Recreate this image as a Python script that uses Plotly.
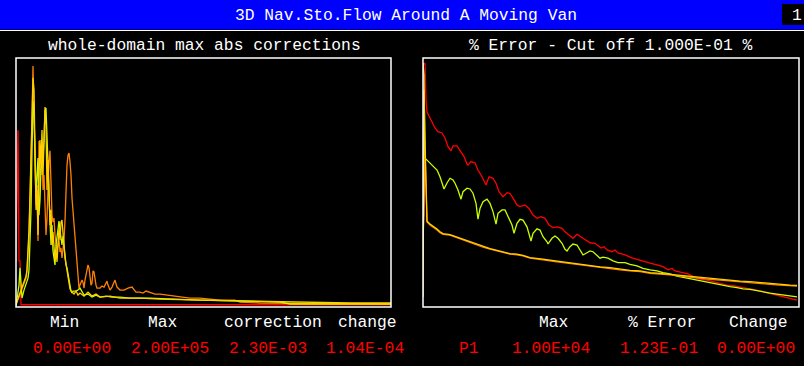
import plotly.graph_objects as go

# ---------------- data (iteration number, % of plot scale) ----------------
# Left panel: whole-domain max abs corrections
L_red_x = [0, 1, 2, 3, 4, 5, 375]
L_red_y = [18.5, 53.0, 71.0, 18.5, 18.5, 0.9, 0.9]

L_orange_x = [0, 2, 4, 6, 8, 10, 11, 12, 13, 14, 15, 16, 17, 18, 19, 20, 21, 22, 23, 24, 25, 26, 27, 28, 29,
              30, 31, 32, 33, 34, 35, 36, 37, 38, 39, 40, 41, 42, 43, 44, 45, 46, 47, 48, 49, 50, 51, 52, 53,
              54, 55, 56, 57, 58, 59, 60, 61, 62, 63, 64, 65, 66, 67, 68, 69, 70, 71, 72, 73, 74, 75, 76, 77,
              78, 79, 80, 81, 84, 86, 88, 90, 91, 92, 94, 96, 98, 99, 101, 104, 108, 112, 116, 120, 124, 127,
              130, 134, 139, 144, 151, 159, 164, 174, 184, 204, 219, 224, 244, 274, 317, 375]
L_orange_y = [0.8, 2.8, 5.2, 6.8, 9.2, 11.6, 14.5, 20.9, 28.9, 43.0, 57.0, 75.1, 96.8, 79.1, 59.0, 41.0, 49.0,
              26.5, 66.7, 59.0, 53.0, 63.9, 47.0, 53.0, 41.0, 28.9, 35.7, 53.0, 59.0, 62.7, 47.0, 36.9, 34.1,
              35.7, 28.9, 24.9, 22.5, 24.9, 26.9, 22.1, 23.7, 19.7, 22.9, 26.9, 34.9, 46.6, 57.0, 61.0, 61.8,
              58.2, 53.0, 43.8, 39.0, 34.5, 27.7, 22.5, 16.9, 12.9, 7.6, 8.8, 9.6, 10.8, 10.0, 7.6, 10.8, 12.9,
              15.7, 16.9, 15.7, 12.9, 8.8, 9.6, 14.5, 14.1, 10.8, 8.8, 7.6, 7.6, 8.4, 8.0, 9.6, 10.4, 8.8, 6.8,
              8.0, 10.0, 10.8, 8.0, 6.8, 6.8, 7.6, 8.0, 6.0, 6.0, 5.6, 6.4, 6.0, 5.2, 5.2, 4.8, 4.4, 4.0, 3.6,
              3.6, 2.8, 2.8, 2.0, 1.6, 1.6, 1.4, 1.2]

L_gold_x = [0, 2, 4, 6, 8, 10, 11, 12, 13, 14, 15, 16, 17, 18, 19, 20, 21, 22, 23, 24, 25, 26, 27, 28, 29, 30,
            31, 32, 33, 34, 35, 36, 37, 38, 39, 40, 41, 42, 43, 44, 45, 46, 47, 48, 49, 50, 51, 52, 53, 54, 56,
            58, 60, 62, 64, 68, 72, 76, 80, 84, 94, 104, 124, 144, 184, 234, 284, 334, 375]
L_gold_y = [1.2, 3.6, 6.0, 8.4, 10.0, 12.4, 14.9, 20.9, 30.9, 45.0, 63.1, 83.1, 92.0, 87.1, 67.1, 39.0, 47.0,
            28.9, 51.0, 67.1, 57.0, 71.1, 53.0, 63.1, 80.3, 73.1, 47.0, 59.0, 43.0, 32.9, 39.0, 24.9, 30.1,
            22.9, 18.9, 22.9, 18.1, 24.9, 31.7, 26.9, 34.1, 34.9, 28.9, 22.9, 19.7, 17.3, 14.9, 10.8, 9.2, 7.2,
            6.0, 5.2, 6.4, 4.8, 5.6, 4.4, 6.0, 4.4, 5.2, 4.0, 4.4, 3.6, 3.6, 3.2, 2.8, 2.4, 2.0, 1.6, 1.6]

L_lime_x = [0, 1, 3, 4, 5, 6, 8, 10, 12, 13, 14, 15, 16, 17, 18, 19, 20, 21, 22, 23, 24, 25, 26, 27, 28, 29,
            30, 31, 32, 33, 34, 35, 36, 37, 38, 39, 40, 41, 42, 43, 44, 45, 46, 47, 48, 49, 50, 51, 52, 53, 54,
            55, 56, 57, 60, 62, 64, 66, 68, 72, 76, 80, 84, 90, 96, 104, 114, 134, 154, 184, 224, 264, 274, 375]
L_lime_y = [0.4, 2.8, 8.8, 15.7, 6.8, 3.6, 6.8, 8.8, 11.6, 14.9, 26.9, 38.6, 63.1, 82.7, 78.3, 59.0, 43.8,
            53.0, 59.8, 36.9, 43.0, 55.8, 59.0, 59.8, 67.1, 78.7, 79.9, 66.7, 55.8, 43.8, 34.5, 24.9, 32.9,
            22.5, 19.7, 16.9, 24.9, 28.9, 31.7, 34.5, 30.9, 27.7, 24.9, 28.5, 24.9, 19.7, 16.9, 15.7, 12.9,
            10.0, 7.6, 6.4, 5.6, 6.4, 6.4, 6.8, 7.6, 6.4, 4.8, 5.2, 4.0, 4.8, 4.0, 4.4, 4.0, 4.0, 3.6, 3.6, 3.2,
            2.8, 2.4, 2.0, 1.2, 1.2]

# Right panel: % Error
R_red_x = [0, 2, 3, 4, 7, 10, 12, 15, 19, 22, 25, 28, 30, 34, 38, 41, 44, 45, 48, 52, 55, 59, 63, 66, 70, 73,
           76, 80, 84, 87, 90, 94, 97, 102, 106, 110, 114, 118, 122, 126, 130, 134, 139, 142, 146, 150, 154,
           158, 162, 167, 172, 175, 178, 181, 184, 189, 192, 195, 202, 209, 215, 222, 227, 234, 240, 245, 249,
           252, 259, 265, 270, 277, 284, 290, 297, 304, 310, 317, 324, 330, 337, 344, 350, 357, 364, 370, 374]
R_red_y = [97.2, 98.0, 83.1, 78.3, 75.9, 73.1, 71.9, 70.4, 69.9, 67.9, 64.4, 62.7, 64.7, 64.7, 62.2, 60.4,
           57.4, 57.0, 58.4, 57.8, 55.0, 52.3, 49.0, 52.3, 51.7, 49.7, 46.3, 44.3, 45.9, 45.6, 43.7, 41.0, 40.3,
           41.0, 39.6, 36.9, 35.6, 36.3, 35.6, 32.9, 31.9, 32.2, 31.6, 30.2, 28.9, 27.6, 29.2, 28.2, 26.9, 25.8,
           25.6, 24.5, 23.7, 24.2, 22.9, 22.2, 22.9, 21.7, 20.9, 19.7, 18.9, 18.2, 17.6, 16.9, 16.2, 14.9, 15.5,
           14.5, 13.8, 13.3, 12.2, 11.2, 10.8, 10.2, 9.5, 8.8, 8.6, 7.9, 7.5, 7.1, 6.4, 5.7, 5.1, 4.3, 3.5, 3.2,
           2.8]

R_lime_x = [0, 1, 2, 4, 7, 10, 14, 17, 19, 21, 24, 27, 30, 32, 35, 37, 38, 40, 44, 47, 50, 53, 54, 55, 57, 60,
            64, 67, 70, 72, 73, 75, 79, 82, 85, 89, 91, 94, 97, 100, 104, 106, 108, 110, 114, 117, 120, 124,
            125, 129, 132, 135, 139, 142, 144, 147, 150, 154, 157, 160, 164, 167, 170, 174, 177, 180, 185, 190,
            195, 202, 207, 214, 220, 227, 234, 240, 247, 254, 260, 267, 274, 280, 287, 294, 300, 307, 314, 320,
            327, 334, 340, 347, 354, 360, 367, 374]
R_lime_y = [98.0, 93.2, 59.8, 59.0, 57.8, 56.6, 55.0, 52.3, 49.8, 47.4, 49.8, 51.7, 51.0, 49.7, 47.0, 44.3,
            43.3, 46.3, 47.7, 47.4, 45.7, 41.6, 37.6, 35.3, 39.6, 42.3, 43.3, 41.6, 38.3, 34.9, 33.3, 37.6, 39.0,
            39.0, 36.3, 32.9, 29.6, 33.6, 35.2, 34.9, 32.2, 28.9, 26.5, 29.6, 31.4, 30.9, 28.2, 26.2, 25.3, 27.6,
            28.5, 27.6, 25.6, 23.2, 22.5, 24.2, 25.3, 24.9, 22.9, 20.9, 21.8, 22.5, 22.2, 20.9, 19.6, 20.0, 19.6,
            18.5, 17.8, 17.8, 17.1, 16.5, 15.5, 14.9, 14.5, 13.8, 13.3, 12.4, 11.9, 11.5, 10.8, 10.2, 9.8, 9.2,
            8.7, 8.2, 7.8, 7.3, 7.1, 6.5, 6.1, 5.6, 5.2, 4.8, 4.4, 4.1]

R_orange_x = [0, 1, 2, 3, 4, 7, 10, 14, 17, 20, 27, 34, 40, 47, 54, 60, 67, 74, 80, 87, 94, 100, 107, 114, 120,
              127, 134, 140, 147, 154, 160, 167, 177, 187, 197, 207, 217, 227, 237, 247, 257, 267, 277, 287,
              297, 307, 317, 327, 337, 347, 357, 367, 374]
R_orange_y = [27.7, 36.9, 63.1, 47.0, 34.1, 32.9, 32.1, 30.9, 29.8, 29.2, 28.9, 27.8, 26.9, 25.8, 24.9, 24.0,
              23.2, 22.5, 21.8, 21.2, 20.9, 20.5, 19.6, 19.3, 18.9, 18.5, 18.1, 17.8, 17.3, 16.9, 16.6, 16.2,
              15.8, 15.5, 14.9, 14.5, 14.2, 13.5, 13.3, 12.9, 12.4, 11.9, 11.5, 11.1, 10.8, 10.4, 10.2, 9.9, 9.5,
              9.1, 8.8, 8.6, 8.4]

R_gold_x = [0, 1, 2, 3, 4, 7, 10, 14, 17, 20, 27, 34, 40, 47, 54, 60, 67, 74, 80, 87, 94, 100, 107, 114, 120,
            127, 134, 140, 147, 154, 160, 167, 177, 187, 197, 207, 217, 227, 237, 247, 257, 267, 277, 287, 297,
            307, 317, 327, 337, 347, 357, 367, 374]
R_gold_y = [4.0, 87.1, 67.1, 50.2, 34.5, 33.3, 32.5, 31.3, 30.2, 29.5, 29.1, 28.1, 27.2, 26.1, 25.1, 24.3,
            23.4, 22.7, 22.1, 21.4, 21.2, 20.7, 19.8, 19.6, 19.2, 18.8, 18.4, 18.1, 17.6, 17.2, 16.9, 16.5, 16.1,
            15.8, 15.1, 14.7, 14.5, 13.8, 13.5, 13.1, 12.7, 12.1, 11.7, 11.4, 11.1, 10.7, 10.4, 10.2, 9.8, 9.4,
            9.1, 8.8, 8.7]

title_text = "3D Nav.Sto.Flow Around A Moving Van"
page_no = "1"
left_title = "whole-domain max abs corrections"
right_title = "% Error - Cut off 1.000E-01 %"
left_heads = ["Min", "Max", "correction", "change"]
left_vals = ["0.00E+00", "2.00E+05", "2.30E-03", "1.04E-04"]
right_heads = ["Max", "% Error", "Change"]
right_vals = ["P1", "1.00E+04", "1.23E-01", "0.00E+00"]

# ---------------- figure ----------------
W, H = 804, 366
RED, ORANGE, GOLD, LIME = "#FF0000", "#FF8000", "#FFD000", "#C8FF00"
FONT = "Liberation Mono"


def px(x):
    return x / W


def py(y):
    return 1 - y / H


fig = go.Figure()


def add(x, y, color, axis):
    fig.add_trace(go.Scatter(x=x, y=y, mode="lines", line=dict(color=color, width=1.3),
                             xaxis="x" if axis == 1 else "x2", yaxis="y" if axis == 1 else "y2",
                             hoverinfo="skip", showlegend=False))


add(L_red_x, L_red_y, RED, 1)
add(L_orange_x, L_orange_y, ORANGE, 1)
add(L_lime_x, L_lime_y, LIME, 1)
add(L_gold_x, L_gold_y, GOLD, 1)

add(R_red_x, R_red_y, RED, 2)
add(R_lime_x, R_lime_y, LIME, 2)
add(R_orange_x, R_orange_y, ORANGE, 2)
add(R_gold_x, R_gold_y, GOLD, 2)

ax = dict(visible=False, showgrid=False, zeroline=False, fixedrange=True)
ydom = [py(307), py(58)]
fig.update_layout(
    width=W, height=H, margin=dict(l=0, r=0, t=0, b=0),
    paper_bgcolor="black", plot_bgcolor="black",
    xaxis=dict(domain=[px(16), px(391)], range=[0, 375], **ax),
    yaxis=dict(domain=ydom, range=[0, 100], **ax),
    xaxis2=dict(domain=[px(423), px(799)], range=[0, 376], anchor="y2", **ax),
    yaxis2=dict(domain=ydom, range=[0, 100], anchor="x2", **ax),
)

shapes = [
    dict(type="rect", xref="paper", yref="paper", x0=0, x1=1, y0=py(29.5), y1=1,
         fillcolor="#0000FF", line=dict(width=0), layer="below"),
    dict(type="line", xref="paper", yref="paper", x0=0, x1=1, y0=py(30.5), y1=py(30.5),
         line=dict(color="white", width=1)),
    dict(type="rect", xref="paper", yref="paper", x0=px(782), x1=1, y0=py(25), y1=py(4),
         fillcolor="black", line=dict(width=0), layer="below"),
    dict(type="rect", xref="x domain", yref="y domain", x0=0, x1=1, y0=0, y1=1,
         line=dict(color="white", width=1.5)),
    dict(type="rect", xref="x2 domain", yref="y2 domain", x0=0, x1=1, y0=0, y1=1,
         line=dict(color="white", width=1.5)),
]
fig.update_layout(shapes=shapes)

ann = []


def text(t, x, y, color="white", size=16.3):
    ann.append(dict(text=t, x=px(x), y=py(y), xref="paper", yref="paper", showarrow=False,
                    xanchor="center", yanchor="middle", font=dict(family=FONT, size=size, color=color)))


text(title_text, 406, 15)
text(page_no, 797, 15)
text(left_title, 204, 45)
text(right_title, 611, 45)
for t, x in zip(left_heads, [64.7, 162.5, 273, 367.5]):
    text(t, x, 322)
for t, x in zip(left_vals, [72, 170, 268, 365]):
    text(t, x, 348, RED)
for t, x in zip(right_heads, [553.5, 661.5, 758]):
    text(t, x, 322)
for t, x in zip(right_vals, [469, 551, 659, 756]):
    text(t, x, 348, RED)
fig.update_layout(annotations=ann)

fig.write_html("out.html", config={"displayModeBar": False},
               post_script="document.body.style.margin='0';document.body.style.overflow='hidden';")
